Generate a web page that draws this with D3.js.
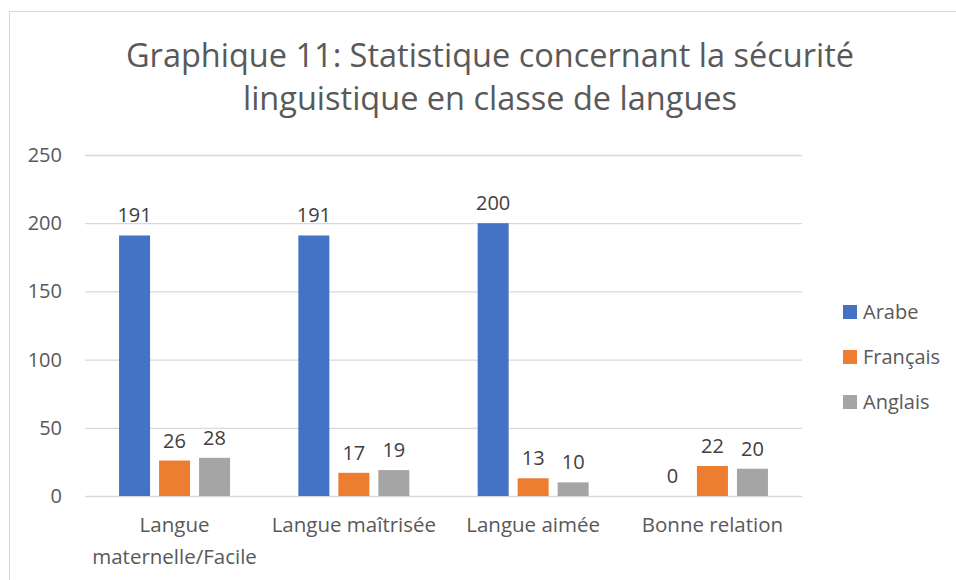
<!DOCTYPE html>
<html>
<head>
<meta charset="utf-8">
<script src="https://cdn.jsdelivr.net/npm/d3@7"></script>
<style>
  body { margin: 0; background: #fff; }
  svg { display: block; font-family: "Open Sans", Lato, sans-serif; }
</style>
</head>
<body>
<svg id="chart" width="956" height="580"></svg>
<script>
// data
const categories = [['Langue', 'maternelle/Facile'], ['Langue maîtrisée'], ['Langue aimée'], ['Bonne relation']];
const series = ['Arabe', 'Français', 'Anglais'];
const arabe = [191, 191, 200, 0];
const francais = [26, 17, 13, 22];
const anglais = [28, 19, 10, 20];
const yTicks = [0, 50, 100, 150, 200, 250];
const titleLines = ['Graphique 11: Statistique concernant la sécurité', 'linguistique en classe de langues'];

const colors = ['#4472C4', '#ED7D31', '#A5A5A5'];
const values = [arabe, francais, anglais];
const FONT = '"Open Sans", Lato, sans-serif';

const svg = d3.select('#chart');
const M = { left: 85, right: 154, top: 155, bottom: 84 };
const W = 956 - M.left - M.right;
const H = 580 - M.top - M.bottom;

// outer frame (cut off at right/bottom like the source)
svg.append('rect')
    .attr('x', 9.5).attr('y', 11.5)
    .attr('width', 1000).attr('height', 1000)
    .attr('fill', 'none').attr('stroke', '#D9D9D9').attr('stroke-width', 1);

// title
svg.append('text')
    .attr('text-anchor', 'middle')
    .attr('fill', '#595959')
    .attr('font-size', 32.5)
    .selectAll('tspan').data(titleLines).join('tspan')
    .attr('x', 490)
    .attr('y', (d, i) => 67 + i * 43)
    .text(d => d);

const g = svg.append('g').attr('transform', `translate(${M.left},${M.top})`);

const y = d3.scaleLinear().domain([0, 250]).range([H, 0]);
const x0 = d3.scaleBand().domain(d3.range(categories.length))
    .range([0, W]).paddingInner(0.381).paddingOuter(0.19);
const x1 = d3.scaleBand().domain(d3.range(series.length))
    .range([0, x0.bandwidth()]).paddingInner(0.225).paddingOuter(0);

// gridlines
g.append('g')
    .call(d3.axisLeft(y).tickValues(yTicks).tickSize(-W).tickFormat(''))
    .call(s => s.select('.domain').remove())
    .call(s => s.selectAll('line').attr('stroke', '#D9D9D9').attr('stroke-width', 1.3));

// y labels
g.append('g')
    .call(d3.axisLeft(y).tickValues(yTicks).tickSize(0).tickPadding(23))
    .call(s => s.select('.domain').remove())
    .call(s => s.selectAll('text').attr('fill', '#595959').attr('font-size', 20)
        .attr('font-family', FONT));

// bars
const groups = g.selectAll('.grp').data(categories).join('g')
    .attr('class', 'grp')
    .attr('transform', (d, i) => `translate(${x0(i)},0)`);

groups.each(function(c, ci) {
    const grp = d3.select(this);
    series.forEach((s, si) => {
        const v = values[si][ci];
        grp.append('rect')
            .attr('x', x1(si)).attr('width', x1.bandwidth())
            .attr('y', y(v)).attr('height', H - y(v))
            .attr('fill', colors[si]);
        grp.append('text')
            .attr('x', x1(si) + x1.bandwidth() / 2)
            .attr('y', y(v) - 13)
            .attr('text-anchor', 'middle')
            .attr('fill', '#404040')
            .attr('font-size', 20)
            .text(v);
    });
});

// x category labels
g.selectAll('.xlab').data(categories).join('text')
    .attr('class', 'xlab')
    .attr('text-anchor', 'middle')
    .attr('fill', '#595959')
    .attr('font-size', 20.5)
    .selectAll('tspan').data((d, i) => d.map(t => ({ t, i }))).join('tspan')
    .attr('x', d => x0(d.i) + x0.bandwidth() / 2)
    .attr('y', (d, j) => H + 36 + j * 32)
    .text(d => d.t);

// legend
const leg = svg.append('g').attr('transform', 'translate(843,312)');
series.forEach((s, i) => {
    leg.append('rect')
        .attr('x', 0).attr('y', i * 45 - 7)
        .attr('width', 14).attr('height', 14)
        .attr('fill', colors[i]);
    leg.append('text')
        .attr('x', 20).attr('y', i * 45 + 7)
        .attr('fill', '#595959').attr('font-size', 20)
        .text(s);
});
</script>
</body>
</html>
